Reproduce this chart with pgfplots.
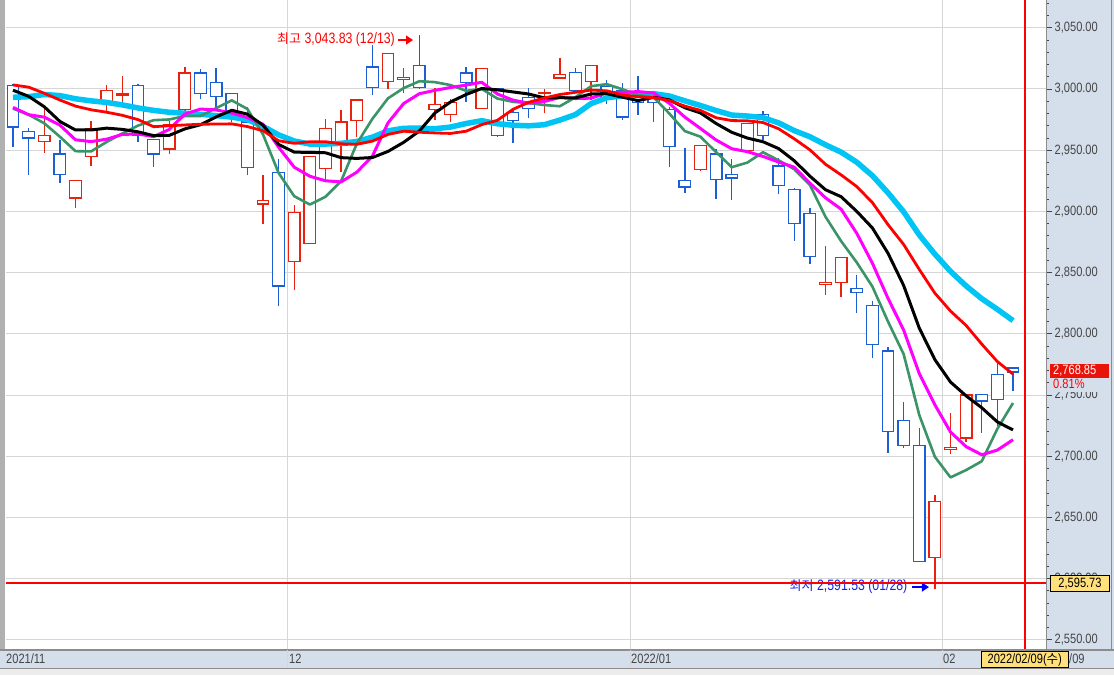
\documentclass[border=0pt]{standalone}
\usepackage{pgfplots}
\pgfplotsset{compat=1.18}
\usepackage{pgfplotstable}
\usepackage{fontspec}
\setmainfont{Liberation Sans}[FakeStretch=0.82]
\newfontfamily\kr{Noto Sans CJK KR}
\usetikzlibrary{arrows.meta}

\definecolor{panel}{HTML}{D5DFEC}
\definecolor{gridc}{HTML}{D6D6D6}
\definecolor{cred}{HTML}{E8220E}
\definecolor{cblue}{HTML}{1C5FD2}
\definecolor{magc}{HTML}{FF00FF}
\definecolor{greenc}{HTML}{3A9468}
\definecolor{cyanc}{HTML}{00C4F4}
\definecolor{mared}{HTML}{FF0000}
\definecolor{tickc}{HTML}{454545}
\definecolor{ylw}{HTML}{FFE07A}
\definecolor{bordc}{HTML}{8C8C8C}
\definecolor{leftc}{HTML}{B0B0B0}
\definecolor{botc}{HTML}{ECECEC}
\definecolor{lblred}{HTML}{E8140A}
\definecolor{lowblue}{HTML}{1426E6}

\newcommand\lab{\fontsize{13.5}{14}\selectfont}
\newcommand\ann{\fontsize{15}{16}\selectfont}

\pgfplotstableread{
i O H L C
0 3003 3004 2953 2969
1 2965 2968 2930 2960
2 2957 2986 2948 2962
3 2947 2958 2923 2930
4 2911 2925 2903 2925
5 2945 2974 2937 2968
6 2989 3003 2980 2999
7 2995 3011 2985 2996.5
8 3003 3004 2957 2962
9 2959 2959 2936.5 2947
10 2951 2974 2947 2971
11 2983 3018 2980 3013
12 3013 3016 2991.6 2996.5
13 3005.5 3017 2984 2994
14 2996.5 2997 2973 2979
15 2973 2985 2929.5 2936
16 2906 2929.5 2890 2909
17 2932 2943 2822.5 2839
18 2859 2905 2836 2899
19 2874 2945 2874 2945
20 2935 2975.5 2926 2968
21 2954 2983 2932 2973
22 2974 2992 2960.5 2991
23 3018 3036 2995 3001
24 3006 3029 3000 3029
25 3008 3017 2997 3009.6
26 3019 3043.83 2999.8 3001
27 2983 3001 2975 2987.5
28 2979 2992 2973 2989
29 3013 3018 2989 3005.5
30 2984 3017 2984 3017
31 3000.6 3001 2961 2962
32 2981 2984 2956 2974
33 2993 3001 2976 2984
34 2996.5 3000 2980 2997.3
35 3009 3025 3009 3012
36 3013.6 3017 2999 2999
37 3006 3019 2991 3019
38 3002 3007 2988 2992
39 2999 3005 2975 2977
40 2998 3010.8 2978.5 2988.8
41 2992 2995 2973 2989
42 2983 2985 2936 2953
43 2925 2952 2915 2920
44 2934 2954 2933 2954
45 2947 2951 2910 2926
46 2930 2943 2909 2927.4
47 2950 2972 2950 2972
48 2979 2982 2958 2962
49 2937 2944 2914 2921
50 2918 2919 2876 2890
51 2898 2902.5 2857 2863
52 2840 2871.5 2831.5 2842
53 2842 2862.5 2830 2862.5
54 2837 2848 2817 2834
55 2823 2827 2780 2791.5
56 2786 2789 2703 2720
57 2729 2744 2707 2709
58 2709 2723 2614 2614
59 2617 2668 2591.53 2663
60 2705.6 2735 2702 2707.3
61 2715 2751 2712 2750
62 2750.6 2751 2719 2745
63 2767 2779 2725 2746.5
64 2772 2773 2753 2768.85
}\candles

\pgfplotstableread{
i m5 m7 m10 m15 m20
0 2984 2985 2999 3003.3 2993.2
1 2979 2979 2994 3001.5 2993.7
2 2972 2977 2985.5 2996.5 2995.5
3 2961 2970.5 2973.5 2991 2994.6
4 2949.2 2958.5 2966.5 2986 2992
5 2949.0 2957 2966.5 2983 2990.3
6 2956.8 2959.0 2968 2981 2989
7 2963.7 2962.9 2967 2978.5 2987
8 2970.1 2963.2 2965 2975 2984.5
9 2974.5 2961.1 2961.9 2969.2 2982.5
10 2975.1 2966.9 2962.1 2970 2981
11 2977.9 2979.5 2967.4 2970.6 2980.2
12 2977.9 2983.6 2970.8 2971.2 2979.3
13 2984.3 2982.9 2977.2 2971.4 2978.3
14 2990.7 2980.4 2982.6 2971.5 2977
15 2983.7 2976.6 2979.4 2969.3 2975
16 2962.9 2971.2 2970.4 2965.9 2969.5
17 2931.4 2952.4 2954.7 2957.7 2962.5
18 2912.4 2936.1 2948.4 2955.6 2957.5
19 2905.6 2928.7 2948.2 2956.9 2955.0
20 2912.0 2925.0 2947.9 2956.9 2955.0
21 2924.8 2924.1 2943.9 2955.2 2955.6
22 2955.2 2932.0 2943.3 2954.8 2957.1
23 2975.6 2945.1 2944.0 2957.4 2960.6
24 2992.4 2972.3 2949.0 2962.9 2965.8
25 3000.7 2988.1 2956.4 2965.5 2967.9
26 3006.3 2996.1 2965.6 2964.7 2968.0
27 3005.6 2998.9 2980.4 2964.1 2967.5
28 3003.2 3001.2 2989.4 2963.7 2968.9
29 2998.5 3003.2 2995.5 2965.5 2971.8
30 3000.0 3005.5 3000.4 2970.9 2974.1
31 2992.2 2995.9 2999.3 2974.4 2971.6
32 2989.5 2990.9 2997.6 2983.4 2970.4
33 2988.5 2988.4 2995.9 2989.1 2969.9
34 2986.9 2989.8 2992.7 2992.6 2970.8
35 2985.9 2993.1 2992.9 2995.5 2974.6
36 2993.3 2992.2 2992.7 2997.3 2979.1
37 3002.3 2992.5 2995.9 2999.1 2988.1
38 3003.9 2996.8 2996.2 2998.5 2992.8
39 2999.8 2997.2 2993.3 2995.1 2994.4
40 2995.2 2997.9 2990.5 2993.7 2995.4
41 2993.2 2996.7 2993.2 2992.9 2996.2
42 2980.0 2988.3 2991.1 2990.6 2994.3
43 2965.6 2977.0 2984.7 2986.0 2990.3
44 2961.0 2967.7 2980.4 2982.5 2986.5
45 2948.4 2958.3 2971.8 2976.5 2982.4
46 2936.1 2951.2 2964.6 2974.2 2978.7
47 2939.9 2948.8 2959.9 2974.0 2977.9
48 2948.3 2944.9 2956.9 2972.6 2976.6
49 2941.7 2940.3 2951.3 2967.5 2972.3
50 2934.5 2936.1 2941.4 2959.3 2966.0
51 2921.6 2923.1 2928.8 2950.3 2961.0
52 2895.6 2911.1 2917.7 2938.5 2954.4
53 2875.7 2901.8 2912.0 2929.8 2948.4
54 2858.3 2882.1 2900.0 2920.3 2940.2
55 2838.6 2857.7 2886.5 2907.2 2929.2
56 2810.0 2829.0 2865.8 2889.2 2915.2
57 2783.4 2803.1 2839.5 2873.0 2899.7
58 2733.7 2767.6 2804.7 2852.6 2880.8
59 2699.5 2742.0 2778.9 2833.2 2865.1
60 2682.7 2719.8 2760.6 2818.6 2851.0
61 2688.7 2707.8 2749.3 2806.8 2839.1
62 2695.9 2701.2 2739.6 2791.6 2828.7
63 2722.4 2705.0 2728.0 2777.3 2820.0
64 2743.5 2713.5 2721.5 2767.1 2810.8
}\mas

\begin{document}
\begin{tikzpicture}[x=1pt,y=1pt]
\path[use as bounding box] (0,0) rectangle (1114,675);
\fill[white] (0,0) rectangle (1114,675);
\fill[panel] (1046,7) rectangle (1114,675);
\fill[panel] (0,7) rectangle (1114,25);
\fill[botc] (0,0) rectangle (1114,7);
\fill[leftc] (0,25) rectangle (5,675);

\begin{axis}[
  at={(6pt,25pt)}, anchor=south west,
  scale only axis, width=1040pt, height=650pt,
  xmin=-0.448, xmax=66.112, ymin=2541.7, ymax=3072.7,
  axis line style={draw=none},
  xtick={17.55,39.49,59.46}, xticklabels={}, xtick style={draw=none},
  xmajorgrids, ymajorgrids,
  grid style={gridc, line width=1pt},
  ytick={2550,2600,...,3050}, minor ytick={2540,2550,...,3070},
  ytick pos=right, tick align=outside,
  major tick length=6pt, minor tick length=3pt,
  ytick style={tickc, line width=0.8pt},
  minor y tick style={tickc, line width=0.8pt},
  scaled y ticks=false,
  yticklabel style={anchor=west, font=\lab, text=tickc, inner sep=1pt, xshift=1.5pt,
    /pgf/number format/fixed, /pgf/number format/fixed zerofill,
    /pgf/number format/precision=2, /pgf/number format/1000 sep={,},
    /pgf/number format/assume math mode=true},
]
% candles
\pgfplotsinvokeforeach{0,...,64}{%
  \pgfplotstablegetelem{#1}{O}\of\candles \edef\vO{\pgfplotsretval}%
  \pgfplotstablegetelem{#1}{H}\of\candles \edef\vH{\pgfplotsretval}%
  \pgfplotstablegetelem{#1}{L}\of\candles \edef\vL{\pgfplotsretval}%
  \pgfplotstablegetelem{#1}{C}\of\candles \edef\vC{\pgfplotsretval}%
  \pgfmathsetmacro\xa{#1-0.37}%
  \pgfmathsetmacro\xb{#1+0.37}%
  \ifdim\vC pt<\vO pt \def\cc{cblue}\else\def\cc{cred}\fi
  \edef\doit{%
    \noexpand\addplot[draw=\cc, line width=1.3pt, no marks, forget plot] coordinates {(#1,\vL) (#1,\vH)};%
    \noexpand\addplot[draw=\cc, line width=1.3pt, fill=white, no marks, forget plot] coordinates {(\xa,\vO) (\xb,\vO) (\xb,\vC) (\xa,\vC)} -- cycle;%
  }\doit
}
% moving averages
\addplot[draw=cyanc, line width=5.5pt, line join=round, no marks] table[x=i,y=m20] {\mas};
\addplot[draw=greenc, line width=2.6pt, line join=round, no marks] table[x=i,y=m5] {\mas};
\addplot[draw=magc, line width=3pt, line join=round, no marks] table[x=i,y=m7] {\mas};
\addplot[draw=black, line width=3pt, line join=round, no marks] table[x=i,y=m10] {\mas};
\addplot[draw=mared, line width=2.8pt, line join=round, no marks] table[x=i,y=m15] {\mas};
% annotations
\node[anchor=east, text=mared, font=\ann, inner sep=0pt] at (axis cs:24.45,3040) {{\kr\fontsize{13}{14}\selectfont 최고} 3,043.83 (12/13)};
\draw[mared, line width=1.3pt, -{Triangle[length=7pt,width=9pt]}] (axis cs:24.64,3040) -- (axis cs:25.6,3040);
\node[anchor=east, text=lowblue, font=\ann, inner sep=0pt] at (axis cs:57.25,2593.1) {{\kr\fontsize{13}{14}\selectfont 최저} 2,591.53 (01/28)};
\draw[blue, line width=1.3pt, -{Triangle[length=7pt,width=9pt]}] (axis cs:57.54,2593.1) -- (axis cs:58.62,2593.1);
\end{axis}

% crosshair (cursor)
\fill[red] (6,91.35) rectangle (1046,92.65);
\fill[red] (1024,25) rectangle (1026,675);

% borders
\draw[bordc, line width=1pt] (1046,25) -- (1046,675);
\draw[bordc, line width=1pt] (1111.5,25) -- (1111.5,675);
\draw[bordc, line width=1.5pt] (0,25) -- (1114,25);
\draw[bordc, line width=1pt] (0,7) -- (1114,7);
\draw[gridc, line width=1pt] (287.3,7) -- (287.3,25);
\draw[gridc, line width=1pt] (630,7) -- (630,25);
\draw[gridc, line width=1pt] (942,7) -- (942,25);

% date labels
\node[anchor=west, inner sep=0pt, font=\lab, text=tickc] at (6,16) {2021/11};
\node[anchor=west, inner sep=0pt, font=\lab, text=tickc] at (289,16) {12};
\node[anchor=west, inner sep=0pt, font=\lab, text=tickc] at (631,16) {2022/01};
\node[anchor=west, inner sep=0pt, font=\lab, text=tickc] at (943,16) {02};
\filldraw[fill=ylw, draw=black, line width=1pt] (981.5,7.5) rectangle (1068,23.5);
\node[inner sep=0pt, font=\lab, text=black] at (1024.75,15.5) {2022/02/09({\kr\fontsize{12.5}{13}\selectfont 수})};
\node[anchor=west, inner sep=0pt, font=\lab, text=tickc] at (1069,16) {/09};

% right labels
\fill[lblred] (1050,297) rectangle (1109,311);
\node[anchor=west, inner sep=0pt, font=\lab, text=white] at (1053,304) {2,768.85};
\fill[panel] (1050,283) rectangle (1109,297);
\node[anchor=west, inner sep=0pt, font=\lab, text=mared] at (1053,291) {0.81\%};
\filldraw[fill=ylw, draw=black, line width=1pt] (1050.5,83) rectangle (1109.5,99);
\node[inner sep=0pt, font=\lab, text=black] at (1080,91) {2,595.73};
\end{tikzpicture}
\end{document}
